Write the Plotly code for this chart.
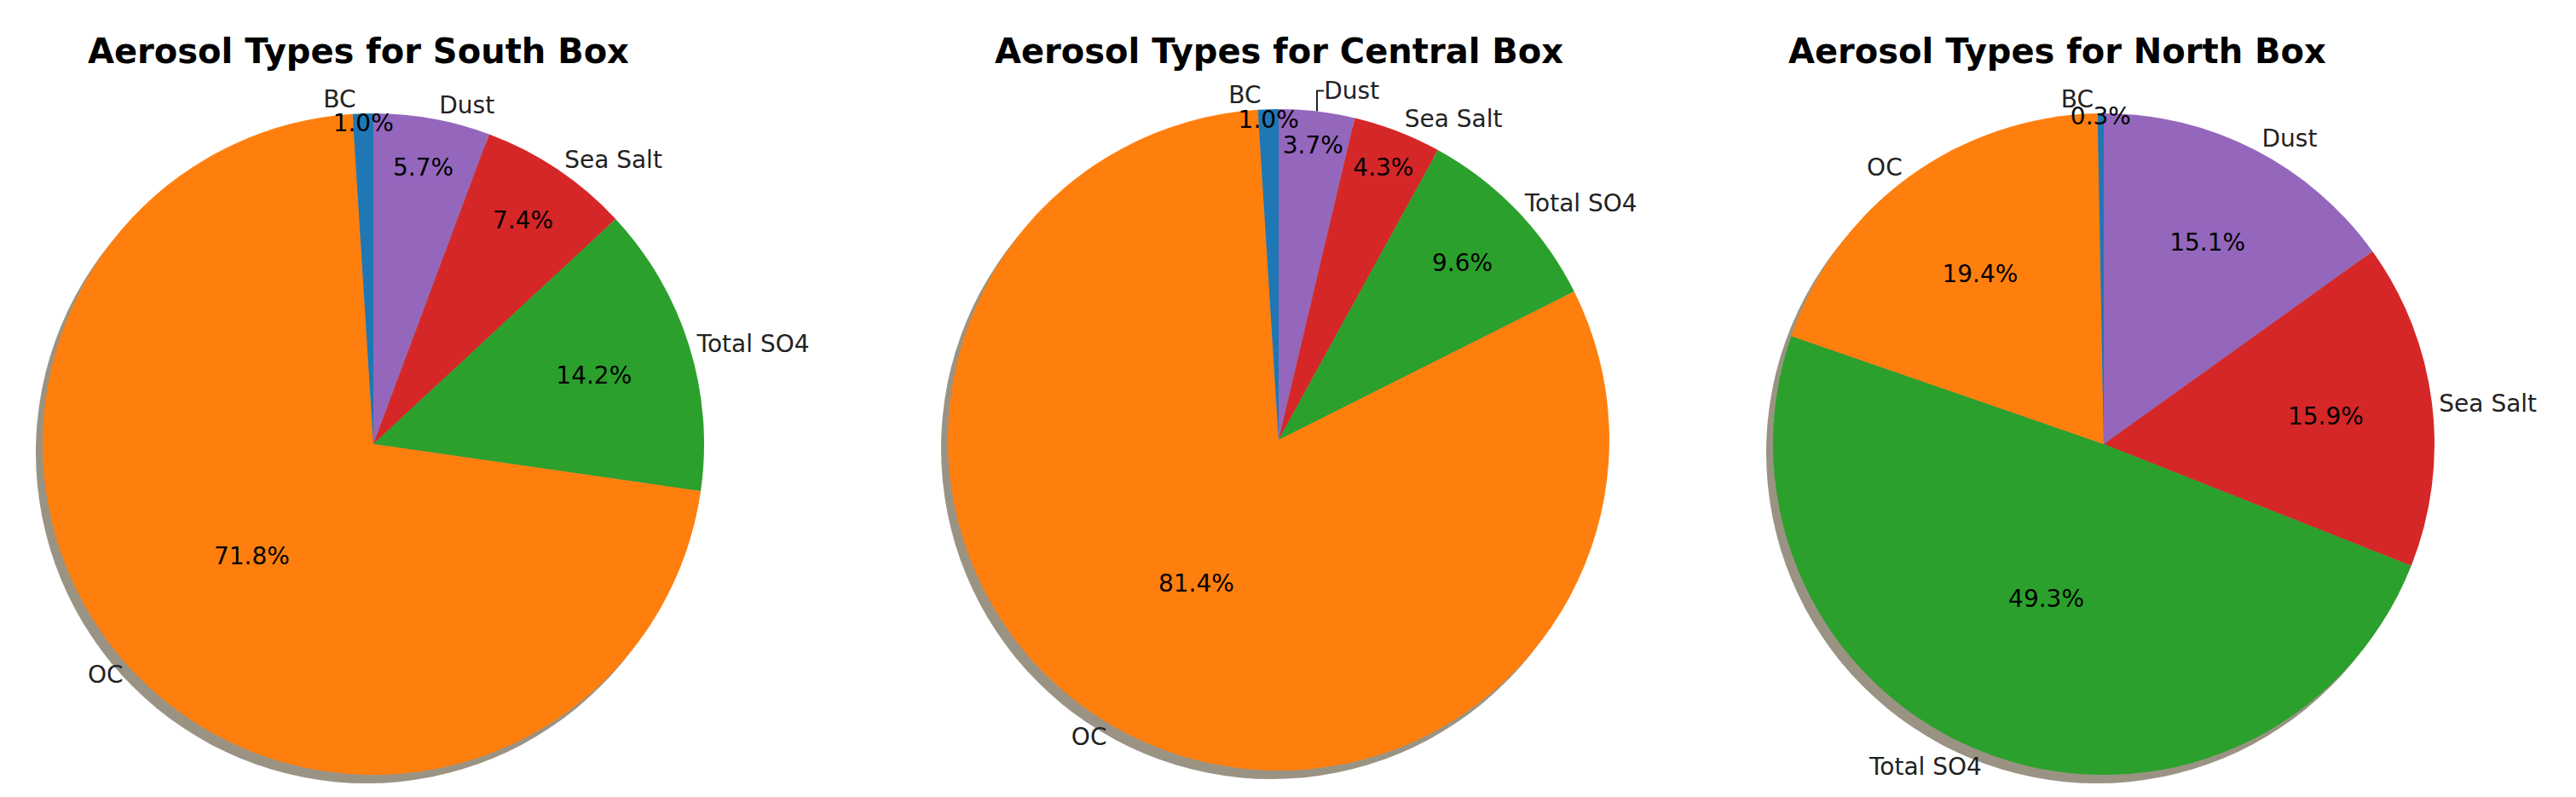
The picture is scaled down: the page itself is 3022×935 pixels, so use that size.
import plotly.graph_objects as go

# listed clockwise from 12 o'clock
labels = ["Dust", "Sea Salt", "Total SO4", "OC", "BC"]
colors = ["#9467bd", "#d62728", "#2ca02c", "#ff7f0e", "#1f77b4"]
south = [5.7, 7.4, 14.2, 71.8, 1.0]
central = [3.7, 4.3, 9.6, 81.4, 1.0]
north = [15.1, 15.9, 49.3, 19.4, 0.3]
titles = ["Aerosol Types for South Box", "Aerosol Types for Central Box", "Aerosol Types for North Box"]

W, H = 3022, 935
centers = [(430, 513), (1492, 508), (2460, 513)]
title_x = [412, 1492, 2405]
R = 388

fig = go.Figure()
for (cx, cy), tx, vals, title in zip(centers, title_x, [south, central, north], titles):
    dx = [(cx - R) / W, (cx + R) / W]
    dy = [1 - (cy + R) / H, 1 - (cy - R) / H]
    # shadow
    sx = [dx[0] - 8 / W, dx[1] - 8 / W]
    sy = [dy[0] - 10 / H, dy[1] - 10 / H]
    fig.add_trace(go.Pie(values=[1], domain=dict(x=sx, y=sy), marker=dict(colors=["#9a9384"]),
                         textinfo="none", hoverinfo="skip", showlegend=False, sort=False))
    # slices with percentages
    fig.add_trace(go.Pie(labels=labels, values=vals, domain=dict(x=dx, y=dy), sort=False,
                         direction="clockwise", rotation=0,
                         marker=dict(colors=colors), textinfo="text",
                         text=[f"{v:.1f}%" for v in vals], textposition="inside",
                         insidetextorientation="horizontal",
                         textfont=dict(size=28, color="black", family="DejaVu Sans"),
                         showlegend=False))
    # outside labels
    fig.add_trace(go.Pie(labels=labels, values=vals, domain=dict(x=dx, y=dy), sort=False,
                         direction="clockwise", rotation=0,
                         marker=dict(colors=["rgba(0,0,0,0)"] * 5), textinfo="label",
                         textposition="outside", automargin=False,
                         textfont=dict(size=28, color="#222", family="DejaVu Sans"),
                         hoverinfo="skip", showlegend=False))
    fig.add_annotation(x=tx / W, y=1 - 52 / H, xref="paper", yref="paper",
                       xanchor="center", yanchor="middle",
                       text=f"<b>{title}</b>", showarrow=False,
                       font=dict(size=40, color="black", family="DejaVu Sans"))

fig.update_layout(width=W, height=H, margin=dict(l=0, r=0, t=0, b=0),
                  paper_bgcolor="white", plot_bgcolor="white",
                  uniformtext=dict(minsize=28, mode="show"))
fig.write_html("out.html")
